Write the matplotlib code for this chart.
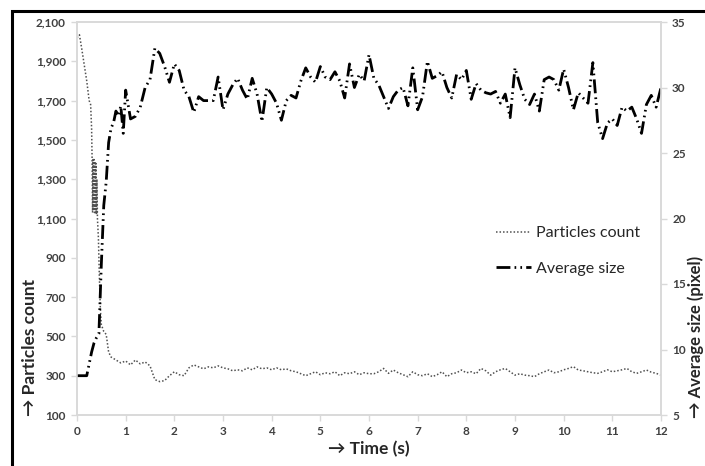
import numpy as np
import matplotlib
matplotlib.use('Agg')
from matplotlib import pyplot as plt
from matplotlib.patches import Rectangle
from matplotlib.ticker import FuncFormatter

plt.rcParams['font.family'] = ['Lato', 'DejaVu Sans']

# particles count (left axis)
count_t = [0, 0.05, 0.1, 0.15, 0.2, 0.25, 0.28, 0.3, 0.31, 0.32, 0.33, 0.34, 0.35, 0.36,
           0.37, 0.38, 0.39, 0.4, 0.41, 0.42, 0.44, 0.46, 0.48, 0.5, 0.55, 0.6, 0.65, 0.7,
           0.8, 0.9, 1.0, 1.1, 1.2, 1.3, 1.4, 1.5, 1.6, 1.7, 1.8, 1.9, 2.0, 2.1, 2.2, 2.3,
           2.4, 2.5, 2.6, 2.7, 2.8, 2.9, 3.0, 3.1, 3.2, 3.3, 3.4, 3.5, 3.6, 3.7, 3.8, 3.9,
           4.0, 4.1, 4.2, 4.3, 4.4, 4.5, 4.6, 4.7, 4.8, 4.9, 5.0, 5.1, 5.2, 5.3, 5.4, 5.5,
           5.6, 5.7, 5.8, 5.9, 6.0, 6.1, 6.2, 6.3, 6.4, 6.5, 6.6, 6.7, 6.8, 6.9, 7.0, 7.1,
           7.2, 7.3, 7.4, 7.5, 7.6, 7.7, 7.8, 7.9, 8.0, 8.1, 8.2, 8.3, 8.4, 8.5, 8.6, 8.7,
           8.8, 8.9, 9.0, 9.1, 9.2, 9.3, 9.4, 9.5, 9.6, 9.7, 9.8, 9.9, 10.0, 10.1, 10.2,
           10.3, 10.4, 10.5, 10.6, 10.7, 10.8, 10.9, 11.0, 11.1, 11.2, 11.3, 11.4, 11.5,
           11.6, 11.7, 11.8, 11.9, 12.0]
count = [2020, 2035, 1960, 1880, 1800, 1700, 1680, 1560, 1410, 1130, 1400, 1140, 1400, 1130,
         1390, 1130, 1380, 1120, 1300, 1100, 1000, 800, 640, 560, 525, 510, 420, 395,
         380, 365, 375, 355, 380, 360, 370, 350, 280, 270, 275, 300, 320, 305, 300, 340,
         355, 345, 335, 345, 340, 350, 340, 335, 325, 330, 325, 340, 330, 345, 335, 340,
         330, 340, 330, 335, 325, 320, 310, 300, 310, 320, 305, 315, 310, 320, 300, 315,
         310, 320, 305, 315, 310, 310, 320, 337, 312, 329, 315, 305, 295, 320, 305, 300,
         310, 295, 305, 320, 295, 310, 315, 329, 315, 320, 310, 337, 325, 303, 320, 330,
         337, 320, 303, 310, 303, 300, 295, 310, 320, 329, 315, 320, 330, 337, 346,
         329, 325, 320, 315, 312, 320, 330, 320, 325, 330, 337, 320, 312,
         320, 329, 318, 312, 303]

# average size (right axis)
size_t = [0, 0.05, 0.1, 0.15, 0.2, 0.25, 0.3, 0.35, 0.4, 0.45, 0.5, 0.55, 0.6, 0.65, 0.7,
          0.75, 0.8, 0.85, 0.9, 0.95, 1.0, 1.1, 1.2, 1.3, 1.4, 1.5, 1.6, 1.7, 1.8, 1.9, 2.0,
          2.1, 2.2, 2.3, 2.4, 2.5, 2.6, 2.7, 2.8, 2.9, 3.0, 3.1, 3.2, 3.3, 3.4, 3.5, 3.6,
          3.7, 3.8, 3.9, 4.0, 4.1, 4.2, 4.3, 4.4, 4.5, 4.6, 4.7, 4.8, 4.9, 5.0, 5.1, 5.2,
          5.3, 5.4, 5.5, 5.6, 5.7, 5.8, 5.9, 6.0, 6.1, 6.2, 6.3, 6.4, 6.5, 6.6, 6.7, 6.8,
          6.9, 7.0, 7.1, 7.2, 7.3, 7.4, 7.5, 7.6, 7.7, 7.8, 7.9, 8.0, 8.1, 8.2, 8.3, 8.4,
          8.5, 8.6, 8.7, 8.8, 8.9, 9.0, 9.1, 9.2, 9.3, 9.4, 9.5, 9.6, 9.7, 9.8, 9.9, 10.0,
          10.1, 10.2, 10.3, 10.4, 10.5, 10.6, 10.7, 10.8, 10.9, 11.0, 11.1, 11.2, 11.3,
          11.4, 11.5, 11.6, 11.7, 11.8, 11.9, 12.0]
size = [8.0, 8.0, 8.0, 8.0, 8.0, 8.9, 9.8, 10.5, 10.9, 11.2, 16.5, 21.0, 22.8, 25.8, 26.9,
        27.3, 28.2, 27.8, 28.6, 26.5, 29.8, 27.6, 27.8, 28.5, 30.0, 30.6, 33.0, 32.6, 31.6,
        30.4, 31.8, 31.3, 29.8, 29.3, 28.1, 29.3, 29.0, 29.0, 29.0, 30.8, 28.3, 29.5, 30.2,
        30.7, 29.8, 29.1, 30.7, 29.5, 27.4, 30.0, 29.5, 28.8, 27.5, 29.0, 29.4, 29.2, 30.5,
        31.5, 30.8, 30.4, 31.6, 30.8, 30.6, 31.2, 30.5, 29.2, 31.8, 30.0, 31.0, 30.5, 32.5,
        30.7, 30.2, 29.3, 28.4, 29.3, 29.8, 30.0, 28.6, 31.5, 28.3, 29.3, 32.0, 30.7, 30.9,
        31.2, 30.0, 29.2, 31.0, 30.6, 31.3, 29.1, 30.3, 29.8, 29.6, 29.5, 29.7, 28.8, 29.5,
        27.7, 31.5, 30.2, 29.1, 28.7, 29.5, 28.2, 30.6, 30.8, 30.6, 29.8, 31.4, 30.0, 28.3,
        29.6, 29.2, 28.8, 31.9, 27.3, 26.1, 27.3, 27.6, 27.1, 28.5, 28.2, 28.5, 27.6, 26.5,
        28.7, 29.4, 28.5, 30.0]

grid_c = '#d9d9d9'
tick_c = '#404040'
label_c = '#262626'

fig = plt.figure(figsize=(7.05, 4.66), dpi=100)
ax = fig.add_axes([77 / 705, 1 - 415 / 466, 584 / 705, 393 / 466])
ax2 = ax.twinx()

l1, = ax.plot(count_t, count, color='#505050', lw=1.1, linestyle=(0, (1, 1.3)),
              label='Particles count')
l2, = ax2.plot(size_t, size, color='black', lw=2.0, linestyle=(0, (5, 1.5, 0.6, 1.5, 0.6, 1.5)),
               label='Average size')

ax.set_xlim(0, 12)
ax.set_ylim(100, 2100)
ax2.set_ylim(5, 35)
ax.set_xticks(range(0, 13))
ax.set_yticks(range(100, 2101, 200))
ax2.set_yticks(range(5, 36, 5))
ax.yaxis.set_major_formatter(FuncFormatter(lambda v, p: f'{int(v):,}'))

for a in (ax, ax2):
    for s in a.spines.values():
        s.set_color(grid_c)
        s.set_linewidth(1.2)
    a.tick_params(length=4, width=1, color=grid_c, labelcolor=tick_c, labelsize=8.5, pad=4)
    for lab in a.get_xticklabels() + a.get_yticklabels():
        lab.set_fontweight('bold')

ax.set_xlabel('→ Time (s)', fontsize=12.5, fontweight='bold', color=label_c, labelpad=3)

fig.text(30 / 705, 1 - 416 / 466, '→ Particles count', rotation=90, ha='center', va='bottom',
         fontsize=12.5, fontweight='bold', color=label_c)
fig.text(696 / 705, 1 - 418 / 466, '→ Average size (pixel)', rotation=90, ha='center',
         va='bottom', fontsize=12, fontweight='bold', color=label_c)

ax2.legend(handles=[l1, l2], loc='center left', bbox_to_anchor=(496 / 705, 1 - 251 / 466),
           bbox_transform=fig.transFigure, frameon=False, fontsize=11.5, handlelength=2.2,
           handletextpad=0.3, labelspacing=1.35, borderpad=0, borderaxespad=0,
           labelcolor=label_c)

fig.add_artist(Rectangle((12 / 705, -0.1), 1.2, 1 - 11 / 466 + 0.1, transform=fig.transFigure,
                         fill=False, edgecolor='black', lw=2.2))

fig.savefig('out.png', dpi=100)
